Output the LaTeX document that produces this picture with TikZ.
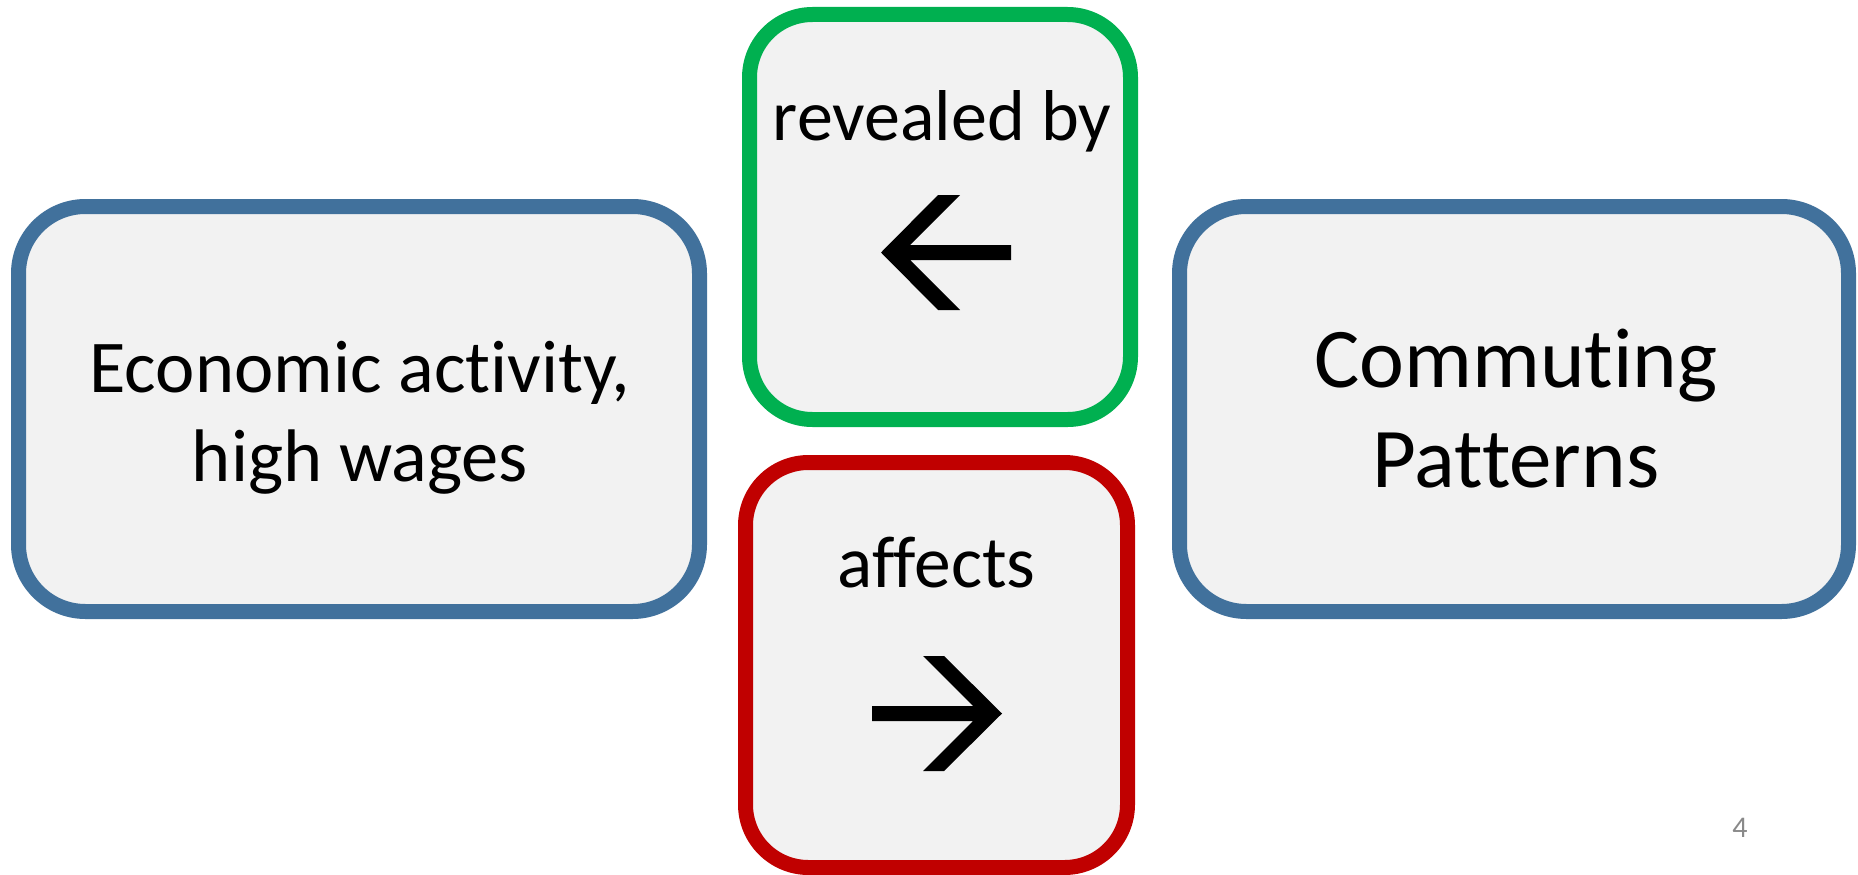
\documentclass[tikz,border=0pt]{standalone}
\usepackage{fontspec}
\setmainfont{Carlito}[Ligatures={NoCommon,NoContextual}]
\definecolor{boxblue}{RGB}{65,113,156}
\definecolor{boxgreen}{RGB}{0,176,80}
\definecolor{boxred}{RGB}{192,0,0}
\definecolor{boxfill}{RGB}{242,242,242}
\definecolor{pagegray}{RGB}{137,137,137}
\begin{document}
\begin{tikzpicture}[x=1pt,y=-1pt,
  panel/.style={draw, fill=boxfill, line width=15pt, rectangle, inner sep=0pt},
  bluepanel/.style={panel, draw=boxblue, rounded corners=67pt},
  greenpanel/.style={panel, draw=boxgreen, rounded corners=63pt},
  redpanel/.style={panel, draw=boxred, rounded corners=63pt},
  bigtext/.style={align=center, inner sep=0pt, font=\fontsize{72}{89}\selectfont},
  lefttext/.style={align=center, inner sep=0pt, font=\fontsize{74.5}{89}\selectfont},
  hugetext/.style={align=center, inner sep=0pt, font=\fontsize{85}{100}\selectfont},
  glyph/.style={fill=black, draw=none}]
\useasboundingbox (0,0) rectangle (1858,875);
\fill[white] (0,0) rectangle (1858,875);
% boxes
\node[bluepanel, minimum width=681pt, minimum height=405pt] (econ) at (359,409) {};
\node[bluepanel, minimum width=669pt, minimum height=405pt] (comm) at (1514,409) {};
\node[greenpanel, minimum width=381pt, minimum height=405pt] (reveal) at (940,217) {};
\node[redpanel, minimum width=382pt, minimum height=405pt] (affect) at (936.5,665) {};
% texts
\node[lefttext, anchor=center] (econtext) at (360,418) {Economic activity,\\high wages};
\node[hugetext, anchor=center] (commtext) at (1516,409) {Commuting\\Patterns};
\node[bigtext, anchor=base] (revealtext) at (942,140) {revealed by};
\node[bigtext, anchor=base, font=\fontsize{73.5}{89}\selectfont] (affecttext) at (936.5,587) {affects};
\node[anchor=base, inner sep=0pt, text=pagegray, font=\fontsize{30}{36}\selectfont] (pagenum) at (1740,837) {4};
% left arrow glyph
\path[glyph] (881,252.5) -- (938,195) -- (960,195) -- (910,245) -- (1011,245) -- (1011,260)
  -- (910,260) -- (960,310) -- (938,310) -- cycle;
% right arrow glyph
\path[glyph] (1002,713.5) -- (944,656) -- (923,656) -- (973,706) -- (872,706) -- (872,721)
  -- (973,721) -- (923,771) -- (944,771) -- cycle;
\end{tikzpicture}
\end{document}
